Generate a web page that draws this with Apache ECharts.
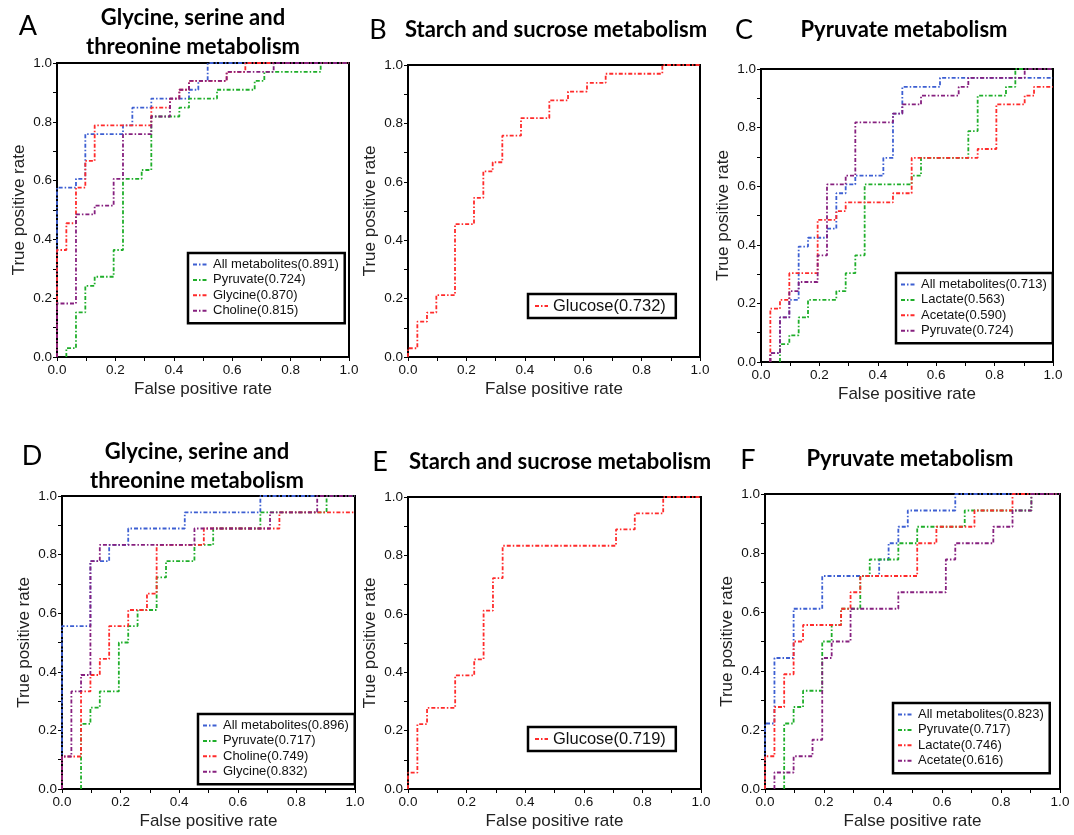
<!DOCTYPE html>
<html>
<head>
<meta charset="utf-8">
<script src="https://cdn.jsdelivr.net/npm/echarts@6/dist/echarts.min.js"></script>
<style>
  html, body { margin: 0; padding: 0; background: #fff; }
  #chart { width: 1074px; height: 835px; }
</style>
</head>
<body>
<div id="chart"></div>
<script>
// ROC curves, corner points [false positive rate, true positive rate]
// panel A - glycine, serine and threonine metabolism
var aAll = [[0,0],[0,0.576],[0.065,0.606],[0.097,0.758],[0.226,0.788],[0.258,0.848],[0.323,0.879],[0.452,0.909],[0.484,0.939],[0.516,1],[1,1]];
var aPyruvate = [[0.032,0],[0.032,0.030],[0.065,0.152],[0.097,0.242],[0.129,0.273],[0.194,0.364],[0.226,0.606],[0.290,0.636],[0.323,0.818],[0.419,0.848],[0.452,0.879],[0.548,0.909],[0.677,0.939],[0.710,0.970],[0.903,1],[1,1]];
var aGlycine = [[0,0],[0,0.364],[0.032,0.455],[0.065,0.576],[0.097,0.667],[0.129,0.788],[0.323,0.848],[0.387,0.879],[0.419,0.909],[0.452,0.939],[0.581,0.970],[0.645,1],[1,1]];
var aCholine = [[0,0],[0,0.182],[0.065,0.485],[0.129,0.515],[0.194,0.606],[0.226,0.758],[0.323,0.818],[0.387,0.879],[0.419,0.909],[0.452,0.939],[0.581,0.970],[0.742,1],[1,1]];
// panel B - starch and sucrose metabolism
var bGlucose = [[0,0],[0,0.030],[0.032,0.121],[0.065,0.152],[0.097,0.212],[0.161,0.455],[0.226,0.545],[0.258,0.636],[0.290,0.667],[0.323,0.758],[0.387,0.818],[0.484,0.879],[0.548,0.909],[0.613,0.939],[0.677,0.970],[0.871,1],[1,1]];
// panel C - pyruvate metabolism
var cAll = [[0.032,0],[0.032,0.030],[0.065,0.152],[0.097,0.212],[0.129,0.394],[0.161,0.424],[0.226,0.455],[0.258,0.576],[0.290,0.606],[0.323,0.636],[0.419,0.697],[0.452,0.848],[0.484,0.939],[0.613,0.970],[1,0.970]];
var cLactate = [[0.065,0],[0.065,0.061],[0.097,0.091],[0.129,0.152],[0.161,0.212],[0.258,0.242],[0.290,0.303],[0.323,0.364],[0.355,0.606],[0.516,0.636],[0.548,0.697],[0.710,0.788],[0.742,0.909],[0.839,0.939],[0.871,1],[1,1]];
var cAcetate = [[0.032,0],[0.032,0.182],[0.065,0.212],[0.097,0.303],[0.194,0.485],[0.258,0.515],[0.290,0.545],[0.452,0.576],[0.516,0.697],[0.742,0.727],[0.806,0.879],[0.903,0.909],[0.935,0.939],[1,0.939]];
var cPyruvate = [[0.032,0],[0.032,0.030],[0.065,0.152],[0.097,0.242],[0.129,0.273],[0.194,0.364],[0.226,0.606],[0.290,0.636],[0.323,0.818],[0.452,0.848],[0.484,0.879],[0.548,0.909],[0.677,0.939],[0.710,0.970],[0.903,1],[1,1]];
// panel D - glycine, serine and threonine metabolism
var dAll = [[0,0],[0,0.556],[0.097,0.778],[0.161,0.833],[0.226,0.889],[0.419,0.944],[0.677,1],[1,1]];
var dPyruvate = [[0.065,0],[0.065,0.222],[0.097,0.278],[0.129,0.333],[0.194,0.500],[0.226,0.556],[0.258,0.611],[0.323,0.722],[0.355,0.778],[0.452,0.833],[0.516,0.889],[0.677,0.944],[0.903,1],[1,1]];
var dCholine = [[0,0],[0,0.111],[0.065,0.333],[0.097,0.389],[0.129,0.444],[0.161,0.556],[0.226,0.611],[0.290,0.667],[0.323,0.833],[0.484,0.889],[0.742,0.944],[1,0.944]];
var dGlycine = [[0,0],[0,0.111],[0.032,0.333],[0.065,0.389],[0.097,0.778],[0.129,0.833],[0.452,0.889],[0.710,0.944],[0.871,1],[1,1]];
// panel E - starch and sucrose metabolism
var eGlucose = [[0,0],[0,0.056],[0.032,0.222],[0.065,0.278],[0.161,0.389],[0.226,0.444],[0.258,0.611],[0.290,0.722],[0.323,0.833],[0.710,0.889],[0.774,0.944],[0.871,1],[1,1]];
// panel F - pyruvate metabolism
var fAll = [[0,0],[0,0.222],[0.032,0.444],[0.097,0.611],[0.194,0.722],[0.387,0.778],[0.419,0.833],[0.452,0.889],[0.484,0.944],[0.645,1],[1,1]];
var fPyruvate = [[0.065,0],[0.065,0.222],[0.097,0.278],[0.129,0.333],[0.194,0.500],[0.226,0.556],[0.258,0.611],[0.323,0.722],[0.355,0.778],[0.452,0.833],[0.516,0.889],[0.677,0.944],[0.903,1],[1,1]];
var fLactate = [[0,0],[0,0.111],[0.032,0.278],[0.065,0.389],[0.097,0.500],[0.129,0.556],[0.258,0.611],[0.290,0.667],[0.323,0.722],[0.516,0.833],[0.581,0.889],[0.710,0.944],[0.839,1],[1,1]];
var fAcetate = [[0.032,0],[0.032,0.056],[0.097,0.111],[0.161,0.167],[0.194,0.444],[0.226,0.500],[0.290,0.611],[0.452,0.667],[0.613,0.778],[0.645,0.833],[0.774,0.889],[0.839,0.944],[0.903,1],[1,1]];

var panelLetters = ['A', 'B', 'C', 'D', 'E', 'F'];
var panelTitles = [
  'Glycine, serine and\nthreonine metabolism',
  'Starch and sucrose metabolism',
  'Pyruvate metabolism',
  'Glycine, serine and\nthreonine metabolism',
  'Starch and sucrose metabolism',
  'Pyruvate metabolism'
];

var BLUE = '#3d5fd2', GREEN = '#1fae2a', RED = '#ff2b2b', PURPLE = '#86207f';

// [panel, legend label, data, colour]
var curves = [
  [0, 'All metabolites(0.891)', aAll, BLUE],
  [0, 'Pyruvate(0.724)', aPyruvate, GREEN],
  [0, 'Glycine(0.870)', aGlycine, RED],
  [0, 'Choline(0.815)', aCholine, PURPLE],
  [1, 'Glucose(0.732)', bGlucose, RED],
  [2, 'All metabolites(0.713)', cAll, BLUE],
  [2, 'Lactate(0.563)', cLactate, GREEN],
  [2, 'Acetate(0.590)', cAcetate, RED],
  [2, 'Pyruvate(0.724)', cPyruvate, PURPLE],
  [3, 'All metabolites(0.896)', dAll, BLUE],
  [3, 'Pyruvate(0.717)', dPyruvate, GREEN],
  [3, 'Choline(0.749)', dCholine, RED],
  [3, 'Glycine(0.832)', dGlycine, PURPLE],
  [4, 'Glucose(0.719)', eGlucose, RED],
  [5, 'All metabolites(0.823)', fAll, BLUE],
  [5, 'Pyruvate(0.717)', fPyruvate, GREEN],
  [5, 'Lactate(0.746)', fLactate, RED],
  [5, 'Acetate(0.616)', fAcetate, PURPLE]
];

// layout
var grids = [
  { left: 57, top: 63, width: 292, height: 294 },
  { left: 408, top: 65, width: 292, height: 292 },
  { left: 761, top: 69, width: 292, height: 293 },
  { left: 62, top: 496, width: 293, height: 293 },
  { left: 408, top: 497, width: 293, height: 292 },
  { left: 765, top: 494, width: 295, height: 295 }
];
var letterPos = [[28, 13], [378, 17], [744, 17], [32, 443], [380, 449], [748, 447]];
var titlePos = [[193, 3], [556, 15], [904, 15], [197, 437], [560, 447], [910, 444]];
var legendPos = [[188, 253], [528, 294], [896, 273], [198, 714], [528, 727], [893, 703]];

var FONT = 'Liberation Sans';
var chart = echarts.init(document.getElementById('chart'));

var titles = [];
panelLetters.forEach(function (l, i) {
  titles.push({
    text: l, left: letterPos[i][0], top: letterPos[i][1], textAlign: 'center', padding: 0,
    textStyle: { fontFamily: 'Lato', fontWeight: 'normal', fontSize: 27, color: '#000' }
  });
  titles.push({
    text: panelTitles[i], left: titlePos[i][0], top: titlePos[i][1], textAlign: 'center', padding: 0,
    textStyle: { fontFamily: 'Lato', fontWeight: 'bold', fontSize: 22, lineHeight: 29, color: '#000' }
  });
});

function xAxisFor(i) {
  return {
    gridIndex: i, type: 'value', min: 0, max: 1, interval: 0.2,
    name: 'False positive rate', nameLocation: 'middle', nameGap: 24,
    nameTextStyle: { fontFamily: FONT, fontSize: 17, color: '#222' },
    axisLine: { show: true, onZero: false, lineStyle: { color: '#000', width: 2 } },
    axisTick: { show: true, length: 4, lineStyle: { color: '#000', width: 1 } },
    minorTick: { show: true, splitNumber: 2, length: 4, lineStyle: { color: '#000', width: 1 } },
    splitLine: { show: false },
    axisLabel: { fontFamily: FONT, fontSize: 13.5, color: '#111', margin: 6,
      formatter: function (v) { return v.toFixed(1); } }
  };
}
function yAxisFor(i) {
  var ax = xAxisFor(i);
  ax.name = 'True positive rate';
  ax.nameGap = 29;
  ax.axisLabel.margin = 5;
  return ax;
}

var series = curves.map(function (c) {
  return {
    type: 'line', name: 'p' + c[0] + '|' + c[1],
    xAxisIndex: c[0], yAxisIndex: c[0],
    data: c[2], step: 'end', symbol: 'none', animation: false,
    lineStyle: { color: c[3], width: 1.8, type: [4, 2, 1.5, 2] },
    itemStyle: { color: c[3] }
  };
});

var legends = legendPos.map(function (p, i) {
  var names = curves.filter(function (c) { return c[0] === i; })
    .map(function (c) { return 'p' + c[0] + '|' + c[1]; });
  var big = names.length === 1;
  return {
    left: p[0], top: p[1], orient: 'vertical', data: names,
    itemWidth: big ? 13 : 15, itemHeight: 10, itemGap: big ? 0 : 0.4,
    padding: big ? [3, 10, 3, 6] : [4, 6, 5, 4],
    borderColor: '#000', borderWidth: 2.5, backgroundColor: '#fff',
    selectedMode: false,
    itemStyle: { opacity: 0 },
    textStyle: { fontFamily: FONT, fontSize: big ? 16.5 : 13, lineHeight: big ? 18 : 15, color: '#111' },
    formatter: function (n) { return n.split('|')[1]; }
  };
});

var option = {
  backgroundColor: '#fff',
  animation: false,
  title: titles,
  legend: legends,
  grid: grids.map(function (g) {
    return { left: g.left, top: g.top, width: g.width, height: g.height,
      show: true, borderColor: '#000', borderWidth: 2, backgroundColor: 'transparent' };
  }),
  xAxis: grids.map(function (g, i) { return xAxisFor(i); }),
  yAxis: grids.map(function (g, i) { return yAxisFor(i); }),
  series: series
};

chart.setOption(option);
</script>
</body>
</html>
